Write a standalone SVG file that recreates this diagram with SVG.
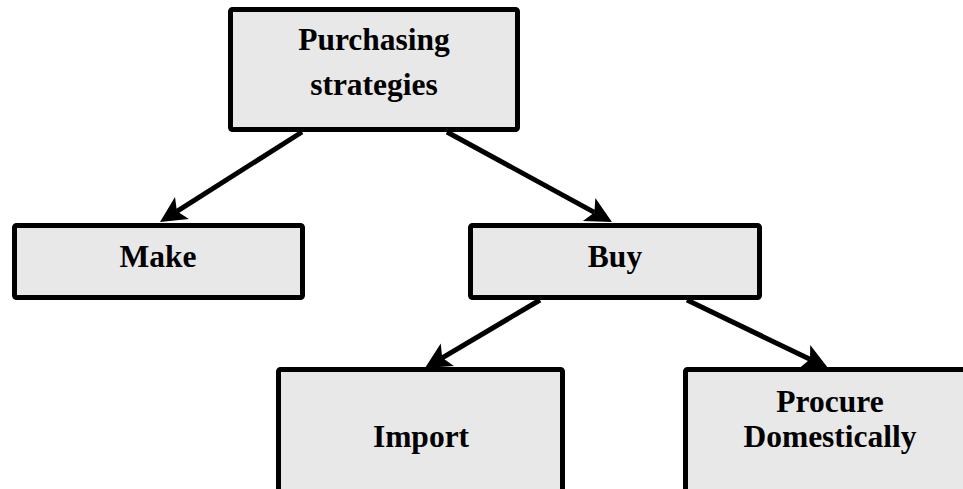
<svg xmlns="http://www.w3.org/2000/svg" width="963" height="489" viewBox="0 0 963 489">
  <style>
    .box { fill: #e8e8e8; stroke: #000; stroke-width: 5; }
    .label { font-family: "Liberation Serif", "Times New Roman", serif; font-weight: bold; font-size: 31.5px; fill: #000; text-anchor: middle; }
    .edge { stroke: #000; stroke-width: 5; fill: none; marker-end: url(#arrow); }
  </style>
  <defs>
    <marker id="arrow" markerUnits="userSpaceOnUse" markerWidth="30" markerHeight="30" viewBox="-2 -15 30 30" refX="6" refY="0" orient="auto">
      <path d="M 26,0 L 0,-13 L 6,0 L 0,13 Z" fill="#000"/>
    </marker>
  </defs>
  <rect width="963" height="489" fill="#fff"/>

  <g id="connectors">
    <line class="edge" x1="302" y1="132" x2="176.9" y2="211.3"/>
    <line class="edge" x1="447" y1="132" x2="594.4" y2="212.4"/>
    <line class="edge" x1="540" y1="300" x2="442.2" y2="357.8"/>
    <line class="edge" x1="687" y1="300" x2="810" y2="359.3"/>
  </g>

  <g id="purchasing-strategies">
    <rect class="box" x="230.5" y="9.5" width="287" height="120" rx="2"/>
    <text class="label" x="374" y="50">Purchasing</text>
    <text class="label" x="374" y="95">strategies</text>
  </g>

  <g id="make">
    <rect class="box" x="14.5" y="225.5" width="288" height="72" rx="2"/>
    <text class="label" x="158" y="267">Make</text>
  </g>

  <g id="buy">
    <rect class="box" x="470.5" y="225.5" width="289" height="72" rx="2"/>
    <text class="label" x="615" y="267">Buy</text>
  </g>

  <g id="import">
    <rect class="box" x="278.5" y="369.5" width="284" height="130" rx="2"/>
    <text class="label" x="421" y="447">Import</text>
  </g>

  <g id="procure-domestically">
    <rect class="box" x="685.5" y="369.5" width="290" height="130" rx="2"/>
    <text class="label" x="830" y="412">Procure</text>
    <text class="label" x="830" y="447">Domestically</text>
  </g>
</svg>
